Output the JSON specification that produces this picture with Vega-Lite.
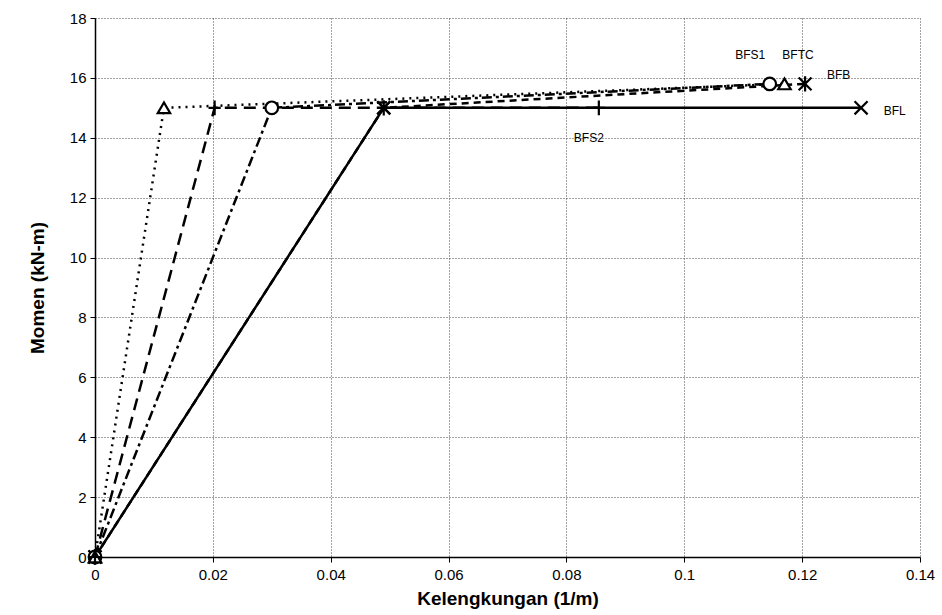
{
  "$schema": "https://vega.github.io/schema/vega-lite/v6.json",
  "autosize": "none",
  "width": 825,
  "height": 539,
  "padding": {"left": 95, "top": 18, "right": 22, "bottom": 58},
  "background": "white",
  "config": {
    "font": "Liberation Sans",
    "view": {"stroke": null},
    "axis": {
      "gridColor": "#444",
      "gridDash": [1, 2],
      "gridWidth": 1,
      "gridOpacity": 1,
      "domainColor": "black",
      "domainWidth": 1.5,
      "tickColor": "black",
      "tickSize": 5,
      "labelFont": "Liberation Sans",
      "labelFontSize": 15,
      "labelColor": "black",
      "labelFlush": false,
      "titleFont": "Liberation Sans",
      "titleFontSize": 19,
      "titleFontWeight": "bold",
      "titleColor": "black"
    }
  },
  "datasets": {
    "series": [
      {"s": "BFL", "x": 0, "y": 0},
      {"s": "BFL", "x": 0.049, "y": 15},
      {"s": "BFL", "x": 0.13, "y": 15},
      {"s": "BFB", "x": 0, "y": 0},
      {"s": "BFB", "x": 0.049, "y": 15},
      {"s": "BFB", "x": 0.1205, "y": 15.8},
      {"s": "BFS1", "x": 0, "y": 0},
      {"s": "BFS1", "x": 0.03, "y": 15},
      {"s": "BFS1", "x": 0.1145, "y": 15.8},
      {"s": "BFTC", "x": 0, "y": 0},
      {"s": "BFTC", "x": 0.0117, "y": 15},
      {"s": "BFTC", "x": 0.117, "y": 15.8},
      {"s": "BFS2", "x": 0, "y": 0},
      {"s": "BFS2", "x": 0.0203, "y": 15},
      {"s": "BFS2", "x": 0.0855, "y": 15}
    ],
    "labels": [
      {"t": "BFS1", "x": 0.1112, "y": 16.77},
      {"t": "BFTC", "x": 0.1193, "y": 16.77},
      {"t": "BFB", "x": 0.1262, "y": 16.1},
      {"t": "BFL", "x": 0.1357, "y": 14.9},
      {"t": "BFS2", "x": 0.0838, "y": 14.0}
    ]
  },
  "layer": [
    {
      "data": {"name": "series"},
      "mark": {"type": "line", "color": "black", "strokeWidth": 2.5},
      "encoding": {
        "x": {
          "field": "x", "type": "quantitative",
          "scale": {"domain": [0, 0.14], "nice": false},
          "axis": {"values": [0, 0.02, 0.04, 0.06, 0.08, 0.1, 0.12, 0.14], "labelExpr": "datum.value == 0 ? '0' : format(datum.value, '.2~f')", "title": "Kelengkungan (1/m)", "titlePadding": 7, "labelPadding": 5}
        },
        "y": {
          "field": "y", "type": "quantitative",
          "scale": {"domain": [0, 18], "nice": false},
          "axis": {"values": [0, 2, 4, 6, 8, 10, 12, 14, 16, 18], "title": "Momen (kN-m)", "titlePadding": 22, "labelPadding": 4}
        },
        "detail": {"field": "s"},
        "strokeDash": {
          "field": "s", "type": "nominal",
          "scale": {"domain": ["BFL", "BFB", "BFS1", "BFTC", "BFS2"], "range": [[1, 0], [7, 5], [10, 4, 3, 4], [2, 5], [12, 7]]},
          "legend": null
        }
      }
    },
    {
      "data": {"name": "series"},
      "mark": {"type": "point", "filled": false, "fill": "white", "stroke": "black", "strokeWidth": 2.2, "opacity": 1},
      "encoding": {
        "x": {"field": "x", "type": "quantitative"},
        "y": {"field": "y", "type": "quantitative"},
        "shape": {
          "field": "s", "type": "nominal",
          "scale": {"domain": ["BFL", "BFB", "BFS1", "BFTC", "BFS2"], "range": ["M-1,-1L1,1M1,-1L-1,1", "M-1,-1L1,1M1,-1L-1,1M0,-1.2L0,1.2", "circle", "triangle-up", "M-1,0L1,0M0,-1.2L0,1.2"]},
          "legend": null
        },
        "size": {
          "field": "s", "type": "nominal",
          "scale": {"domain": ["BFL", "BFB", "BFS1", "BFTC", "BFS2"], "range": [170, 150, 130, 150, 150]},
          "legend": null
        }
      }
    },
    {
      "data": {"name": "labels"},
      "mark": {"type": "text", "font": "Liberation Sans", "fontSize": 12, "color": "black", "align": "center", "baseline": "middle"},
      "encoding": {
        "x": {"field": "x", "type": "quantitative"},
        "y": {"field": "y", "type": "quantitative"},
        "text": {"field": "t"}
      }
    }
  ]
}
